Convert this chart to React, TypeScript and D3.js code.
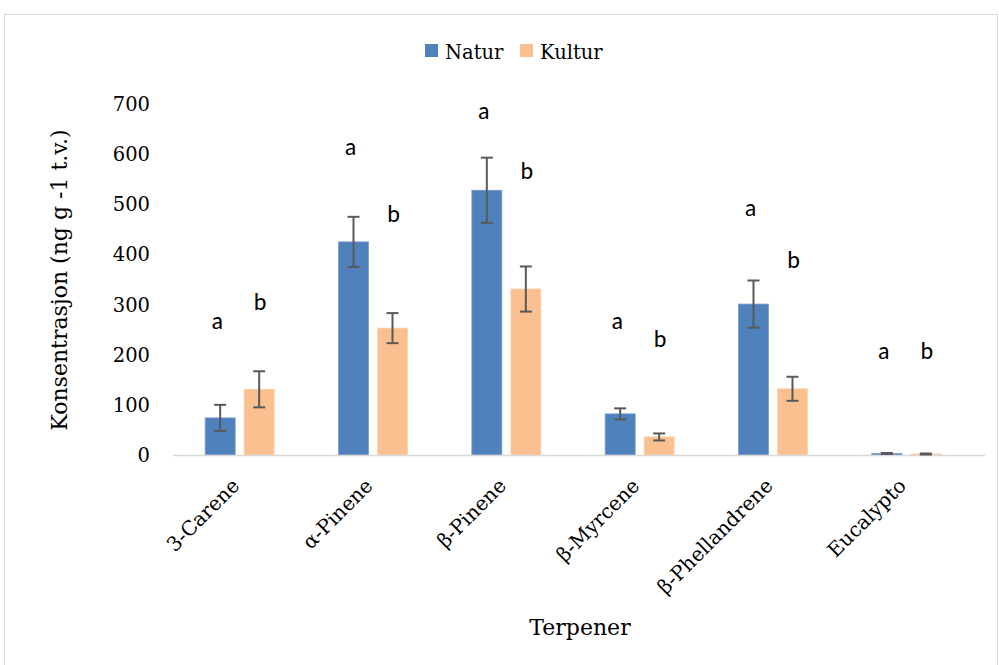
import React from "react";
import * as d3 from "d3";

const categories = ["3-Carene", "α-Pinene", "β-Pinene", "β-Myrcene", "β-Phellandrene", "Eucalypto"];
const seriesNames = ["Natur", "Kultur"];
const naturValues = [74, 425, 528, 82, 301, 3];
const naturErrors = [26, 50, 65, 11, 47, 1];
const kulturValues = [131, 253, 331, 36, 132, 2];
const kulturErrors = [36, 30, 45, 7, 24, 1];
const naturLetters = ["a", "a", "a", "a", "a", "a"];
const naturLetterHeights = [252, 598, 670, 252, 477, 192];
const kulturLetters = ["b", "b", "b", "b", "b", "b"];
const kulturLetterHeights = [290, 465, 550, 216, 372, 192];
const yTicks = [0, 100, 200, 300, 400, 500, 600, 700];
const colors = ["#4f81bd", "#fac090"];

const W = 999, H = 665;
const serif = "'DejaVu Serif', serif";
const sans = "Carlito, 'Liberation Sans', Arial, sans-serif";

export default function App() {
  const x = d3.scaleBand<string>().domain(categories).range([173, 973]).paddingInner(0).paddingOuter(0);
  const x1 = d3.scaleBand<string>().domain(seriesNames).range([0, x.bandwidth()]).paddingInner(0.2308).paddingOuter(0.825);
  const y = d3.scaleLinear().domain([0, 700]).range([455, 104]);
  const series = [
    { name: "Natur", values: naturValues, errors: naturErrors, letters: naturLetters, lh: naturLetterHeights, dx: -3 },
    { name: "Kultur", values: kulturValues, errors: kulturErrors, letters: kulturLetters, lh: kulturLetterHeights, dx: 1 },
  ];
  return (
    <svg width={W} height={H} style={{ position: "absolute", left: 0, top: 0, background: "#fff" }}>
      <rect x={4.5} y={14.5} width={993} height={700} fill="none" stroke="#d9d9d9" strokeWidth={1} />
      {/* legend */}
      <rect x={425} y={44} width={13} height={13} fill={colors[0]} />
      <text x={445} y={59} fontFamily={serif} fontSize={19.5} fill="#000">Natur</text>
      <rect x={520} y={44} width={13} height={13} fill={colors[1]} />
      <text x={540} y={59} fontFamily={serif} fontSize={19.5} fill="#000">Kultur</text>
      {/* y ticks */}
      {yTicks.map((t) => (
        <text key={t} x={150} y={y(t) + 7} textAnchor="end" fontFamily={serif} fontSize={19.5} fill="#000">{t}</text>
      ))}
      {/* bars */}
      {series.map((s, si) =>
        categories.map((c, i) => {
          const bx = (x(c) as number) + (x1(s.name) as number);
          const bw = x1.bandwidth();
          return (
            <rect key={s.name + c} x={bx} y={y(s.values[i])} width={bw} height={y(0) - y(s.values[i])} fill={colors[si]} stroke={si === 0 ? "#7a9cc8" : "#fbd0a8"} strokeWidth={0.8} />
          );
        })
      )}
      <line x1={173} x2={985} y1={455.5} y2={455.5} stroke="#d9d9d9" strokeWidth={1.5} />
      {series.map((s) =>
        categories.map((c, i) => {
          const bx = (x(c) as number) + (x1(s.name) as number);
          const cx = bx + x1.bandwidth() / 2;
          const hi = y(s.values[i] + s.errors[i]);
          const lo = y(Math.max(0, s.values[i] - s.errors[i]));
          return (
            <g key={"e" + s.name + c} stroke="#595959" strokeWidth={2}>
              <line x1={cx} x2={cx} y1={hi} y2={lo} />
              <line x1={cx - 6} x2={cx + 6} y1={hi} y2={hi} />
              <line x1={cx - 6} x2={cx + 6} y1={lo} y2={lo} />
            </g>
          );
        })
      )}
      {/* letters */}
      {series.map((s) =>
        categories.map((c, i) => {
          const cx = (x(c) as number) + (x1(s.name) as number) + x1.bandwidth() / 2 + s.dx;
          return (
            <text key={"l" + s.name + c} x={cx} y={y(s.lh[i])} textAnchor="middle" fontFamily={sans} fontSize={24} fill="#000">{s.letters[i]}</text>
          );
        })
      )}
      {/* category labels */}
      {categories.map((c) => {
        const cx = (x(c) as number) + x.bandwidth() / 2 + 1;
        return (
          <text key={c} transform={`translate(${cx},${487}) rotate(-45)`} textAnchor="end" fontFamily={serif} fontSize={20} fill="#000">{c}</text>
        );
      })}
      <text transform={`translate(67,280) rotate(-90)`} textAnchor="middle" fontFamily={serif} fontSize={22} fill="#000">Konsentrasjon (ng g -1 t.v.)</text>
      <text x={580} y={635} textAnchor="middle" fontFamily={serif} fontSize={22} fill="#000">Terpener</text>
    </svg>
  );
}
